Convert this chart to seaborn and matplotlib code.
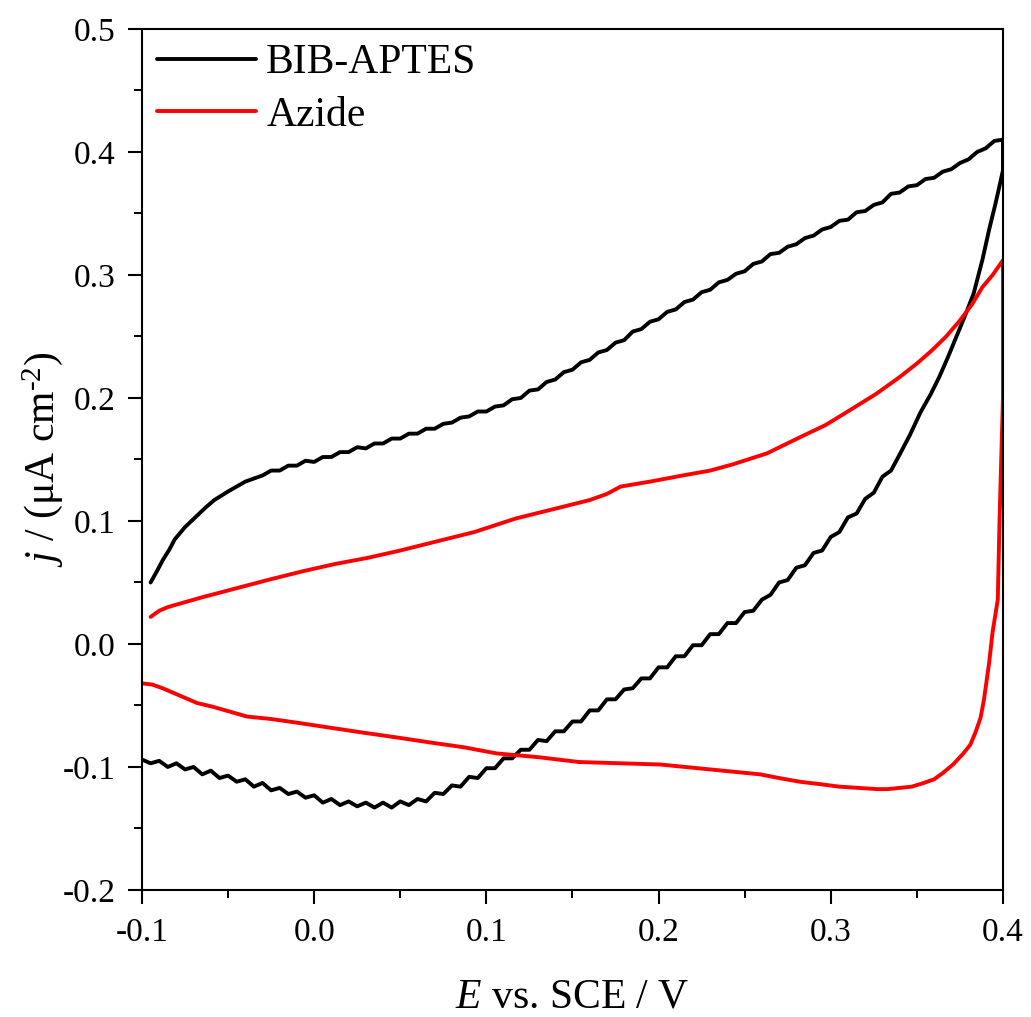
import seaborn as sns
import matplotlib.pyplot as plt
import pandas as pd

# BIB-APTES cycle: forward scan then reverse scan (E in V, j in uA cm-2)
# the staircase ripple of the scan is kept in the read values
bib_E = [-0.095, -0.091, -0.088, -0.084, -0.081, -0.075, -0.069, -0.063, -0.058,
         -0.050, -0.040, -0.030,
         -0.025, -0.020, -0.015, -0.010, -0.005, 0.000, 0.005, 0.010, 0.015, 0.020,
         0.025, 0.030, 0.035, 0.040, 0.045, 0.050, 0.055, 0.060, 0.065, 0.070,
         0.075, 0.080, 0.085, 0.090, 0.095, 0.100, 0.105, 0.110, 0.115, 0.120,
         0.125, 0.130, 0.135, 0.140, 0.145, 0.150, 0.155, 0.160, 0.165, 0.170,
         0.175, 0.180, 0.185, 0.190, 0.195, 0.200, 0.205, 0.210, 0.215, 0.220,
         0.225, 0.230, 0.235, 0.240, 0.245, 0.250, 0.255, 0.260, 0.265, 0.270,
         0.275, 0.280, 0.285, 0.290, 0.295, 0.300, 0.305, 0.310, 0.315, 0.320,
         0.325, 0.330, 0.335, 0.340, 0.345, 0.350, 0.355, 0.360, 0.365, 0.370,
         0.375, 0.380, 0.385, 0.390, 0.395, 0.400,
         0.400, 0.396, 0.392, 0.388, 0.383, 0.378, 0.373, 0.368, 0.363, 0.358,
         0.352, 0.346,
         0.340, 0.335, 0.330, 0.325, 0.320, 0.315, 0.310, 0.305, 0.300, 0.295,
         0.290, 0.285, 0.280, 0.275, 0.270, 0.265, 0.260, 0.255, 0.250, 0.245,
         0.240, 0.235, 0.230, 0.225, 0.220, 0.215, 0.210, 0.205, 0.200, 0.195,
         0.190, 0.185, 0.180, 0.175, 0.170, 0.165, 0.160, 0.155, 0.150, 0.145,
         0.140, 0.135, 0.130, 0.125, 0.120, 0.115, 0.110, 0.105, 0.100, 0.095,
         0.090, 0.085, 0.080, 0.075, 0.070, 0.065, 0.060, 0.055, 0.050, 0.045,
         0.040, 0.035, 0.030, 0.025, 0.020, 0.015, 0.010, 0.005, 0.000, -0.005,
         -0.010, -0.015, -0.020, -0.025, -0.030, -0.035, -0.040, -0.045, -0.050, -0.055,
         -0.060, -0.065, -0.070, -0.075, -0.080, -0.085, -0.090, -0.095, -0.100]
bib_j = [0.050, 0.060, 0.068, 0.077, 0.085, 0.095, 0.103, 0.111, 0.117,
         0.124, 0.132, 0.137,
         0.141, 0.141, 0.145, 0.145, 0.149, 0.148, 0.152, 0.152, 0.156, 0.156,
         0.160, 0.159, 0.163, 0.163, 0.167, 0.167, 0.171, 0.171, 0.175, 0.175,
         0.179, 0.180, 0.184, 0.185, 0.189, 0.189, 0.193, 0.194, 0.199, 0.200,
         0.206, 0.207, 0.213, 0.215, 0.221, 0.223, 0.229, 0.231, 0.237, 0.239,
         0.245, 0.247, 0.254, 0.256, 0.262, 0.264, 0.270, 0.272, 0.278, 0.280,
         0.286, 0.288, 0.294, 0.296, 0.301, 0.303, 0.309, 0.311, 0.317, 0.318,
         0.323, 0.325, 0.330, 0.332, 0.337, 0.339, 0.344, 0.345, 0.351, 0.352,
         0.357, 0.359, 0.366, 0.367, 0.372, 0.373, 0.378, 0.379, 0.384, 0.386,
         0.391, 0.394, 0.400, 0.403, 0.409, 0.410,
         0.385, 0.360, 0.337, 0.312, 0.285, 0.267, 0.250, 0.233, 0.217, 0.203,
         0.188, 0.170,
         0.154, 0.141, 0.136, 0.123, 0.118, 0.106, 0.103, 0.091, 0.087, 0.076,
         0.074, 0.064, 0.062, 0.052, 0.050, 0.040, 0.036, 0.027, 0.026, 0.017,
         0.017, 0.008, 0.008, -0.001, -0.001, -0.010, -0.010, -0.019, -0.019, -0.028,
         -0.028, -0.036, -0.037, -0.045, -0.045, -0.054, -0.054, -0.063, -0.063, -0.071,
         -0.071, -0.079, -0.078, -0.086, -0.086, -0.093, -0.093, -0.101, -0.101, -0.109,
         -0.108, -0.116, -0.115, -0.122, -0.121, -0.128, -0.126, -0.131, -0.128, -0.133,
         -0.129, -0.133, -0.129, -0.132, -0.128, -0.131, -0.126, -0.129, -0.123, -0.125,
         -0.120, -0.122, -0.117, -0.119, -0.113, -0.116, -0.110, -0.112, -0.107, -0.109,
         -0.103, -0.106, -0.100, -0.102, -0.097, -0.100, -0.095, -0.097, -0.094]

# Azide cycle
azide_E = [-0.095, -0.090, -0.085, -0.065, -0.046, -0.027, -0.007, 0.012, 0.031,
           0.050, 0.070, 0.093, 0.117, 0.140, 0.160, 0.170, 0.178, 0.195, 0.214,
           0.230, 0.243, 0.263, 0.282, 0.297, 0.311, 0.326, 0.340, 0.350, 0.359,
           0.367, 0.375, 0.382, 0.388, 0.394, 0.400,
           0.400, 0.400, 0.399, 0.398, 0.397, 0.394, 0.392, 0.389, 0.387, 0.384,
           0.381, 0.377, 0.371, 0.365, 0.360, 0.354, 0.347, 0.340, 0.333, 0.327,
           0.316, 0.305, 0.294, 0.282, 0.270, 0.259, 0.230, 0.201, 0.178, 0.154,
           0.130, 0.106, 0.087, 0.067, 0.048, 0.028, 0.009, -0.010, -0.025, -0.039,
           -0.049, -0.059, -0.068, -0.078, -0.088, -0.094, -0.100]
azide_j = [0.022, 0.027, 0.030, 0.038, 0.045, 0.052, 0.059, 0.065, 0.070,
           0.076, 0.083, 0.091, 0.102, 0.110, 0.117, 0.122, 0.128, 0.132, 0.137,
           0.141, 0.146, 0.155, 0.168, 0.178, 0.190, 0.203, 0.217, 0.228, 0.239,
           0.250, 0.263, 0.276, 0.290, 0.300, 0.312,
           0.260, 0.200, 0.150, 0.100, 0.036, 0.010, -0.015, -0.045, -0.060, -0.072,
           -0.082, -0.089, -0.098, -0.105, -0.110, -0.113, -0.116, -0.117, -0.118, -0.118,
           -0.117, -0.116, -0.114, -0.112, -0.109, -0.106, -0.102, -0.098, -0.097, -0.096,
           -0.092, -0.089, -0.084, -0.080, -0.076, -0.072, -0.068, -0.064, -0.061, -0.059,
           -0.055, -0.051, -0.048, -0.042, -0.036, -0.033, -0.032]

series = ['BIB-APTES', 'Azide']
colors = {'BIB-APTES': 'black', 'Azide': '#ff0000'}

df = pd.concat([
    pd.DataFrame({'E': bib_E, 'j': bib_j, 'sample': series[0]}),
    pd.DataFrame({'E': azide_E, 'j': azide_j, 'sample': series[1]}),
], ignore_index=True)

sns.set_style("ticks")
plt.rcParams['font.family'] = ['Liberation Serif', 'DejaVu Serif']
plt.rcParams['mathtext.fontset'] = 'custom'
plt.rcParams['mathtext.rm'] = 'Liberation Serif'
plt.rcParams['mathtext.it'] = 'Liberation Serif:italic'
plt.rcParams['text.color'] = 'black'
plt.rcParams['axes.labelcolor'] = 'black'

fig = plt.figure(figsize=(10.31, 10.17), dpi=100)
ax = fig.add_axes([0.1377, 0.1249, 0.8351, 0.8466])

sns.lineplot(data=df, x='E', y='j', hue='sample', palette=colors,
             sort=False, estimator=None, linewidth=2.8, ax=ax)

ax.set_xlim(-0.1, 0.4)
ax.set_ylim(-0.2, 0.5)
ax.set_xticks([-0.1, 0.0, 0.1, 0.2, 0.3, 0.4])
ax.set_xticklabels(['-0.1', '0.0', '0.1', '0.2', '0.3', '0.4'])
ax.set_yticks([-0.2, -0.1, 0.0, 0.1, 0.2, 0.3, 0.4, 0.5])
ax.set_yticklabels(['-0.2', '-0.1', '0.0', '0.1', '0.2', '0.3', '0.4', '0.5'])
ax.set_xticks([-0.05, 0.05, 0.15, 0.25, 0.35], minor=True)
ax.set_yticks([-0.15, -0.05, 0.05, 0.15, 0.25, 0.35, 0.45], minor=True)

for s in ax.spines.values():
    s.set_visible(True)
    s.set_linewidth(1.5)
    s.set_color('black')
ax.tick_params(which='major', direction='out', length=10, width=1.5,
               labelsize=24, colors='black')
ax.tick_params(which='minor', direction='out', length=5.5, width=1.4, colors='black')
ax.tick_params(axis='x', which='major', pad=10)
ax.tick_params(axis='y', which='major', pad=9)

ax.set_xlabel(r'$E$ vs. SCE / V', fontsize=30)
ax.set_ylabel(r'$j$ / (μA cm$^{\text{-2}}$)', fontsize=30)
ax.xaxis.set_label_coords(0.5, -0.102)
ax.yaxis.set_label_coords(-0.089, 0.5)

leg = ax.legend(loc='upper left', frameon=False, fontsize=30, handlelength=2.37,
                handletextpad=0.25, labelspacing=0.33, borderaxespad=0.0,
                borderpad=0.36)
for line in leg.get_lines():
    line.set_linewidth(2.8)

fig.savefig('out.png', dpi=100)
